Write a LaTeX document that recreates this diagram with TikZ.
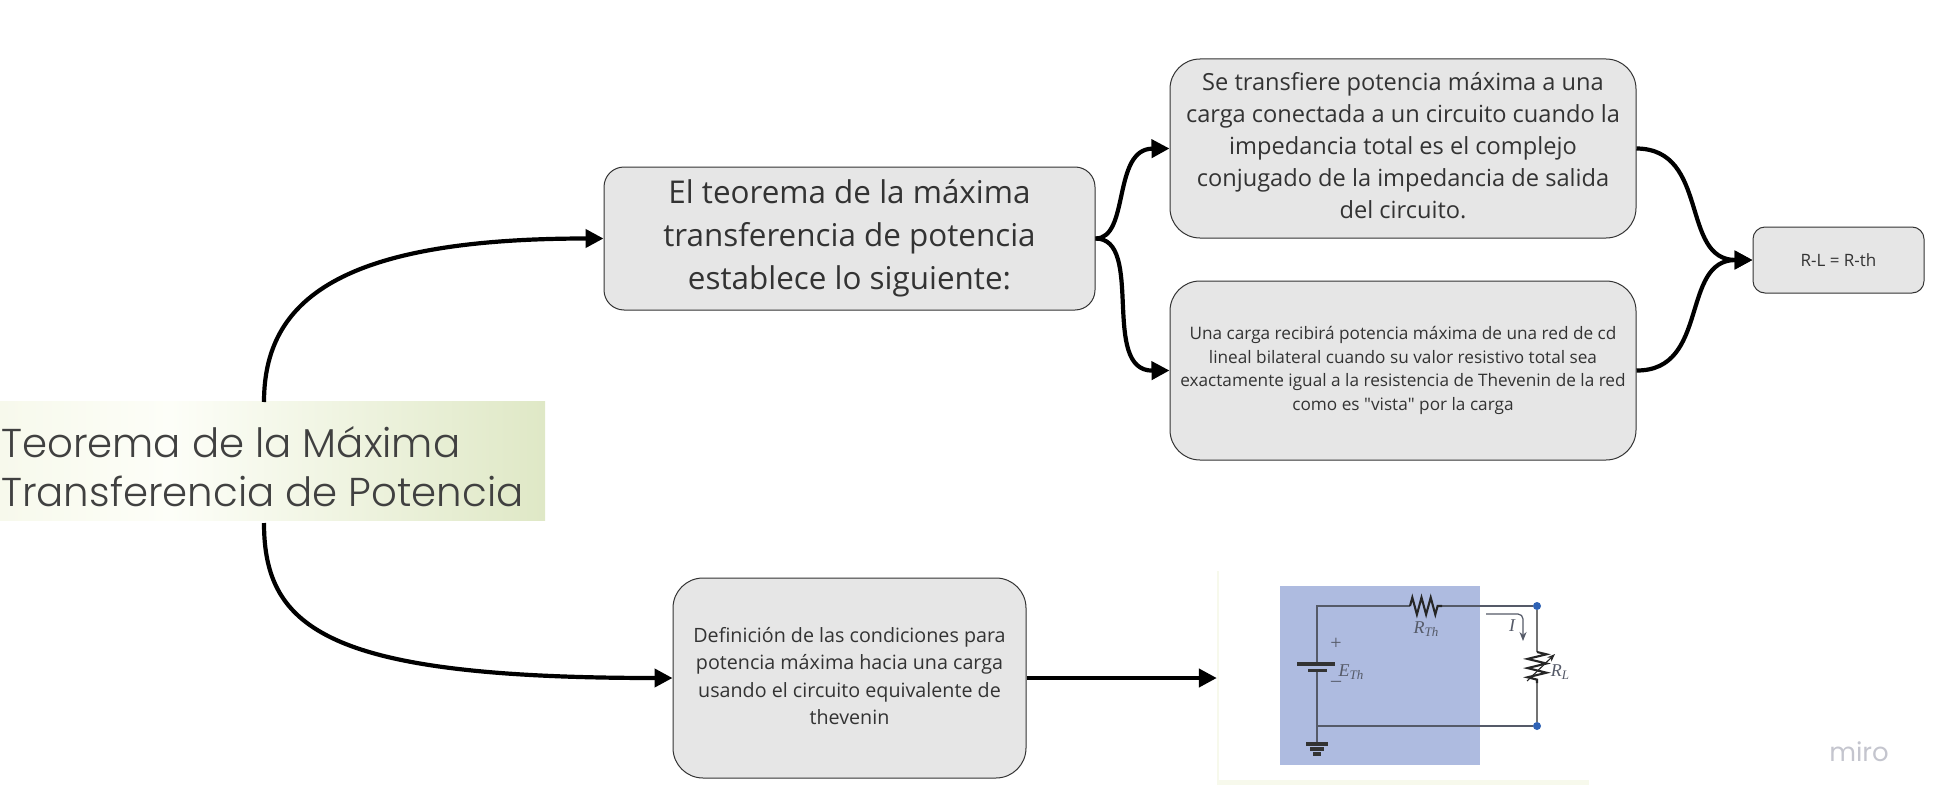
\documentclass[tikz,border=0pt]{standalone}
\usepackage{fontspec}
\setmainfont{Open Sans}
\newfontfamily\titlefont{Poppins Light}
\newfontfamily\plainfont{Open Sans}
\newfontfamily\mirofont{Poppins}
\newfontfamily\serifit{Liberation Serif}[ItalicFont=* Italic]
\usetikzlibrary{arrows.meta,calc,decorations.pathmorphing}
\definecolor{boxfill}{HTML}{E6E6E6}
\definecolor{ink}{HTML}{333333}
\definecolor{wire}{HTML}{555A68}
\definecolor{panel}{HTML}{AEBBE0}
\definecolor{dot}{HTML}{2F62B5}
\definecolor{leafl}{HTML}{F7F9EC}
\definecolor{leafm}{HTML}{FDFEF8}
\definecolor{leafr}{HTML}{DFE8C6}
\definecolor{mirogray}{HTML}{C4C5CE}
\tikzset{
  card/.style={draw=ink,line width=1pt,fill=boxfill,text=ink,align=center,inner sep=0pt},
  link/.style={draw=black,line width=4.2pt,-{Triangle[length=18pt,width=18pt]}},
  wirestyle/.style={draw=wire,line width=1.3pt},
  plate/.style={draw=black!80,line width=3.3pt},
  zig/.style={draw=black!85,line width=2.1pt,decorate,decoration={zigzag,segment length=9.2pt,amplitude=#1}},
  term/.style={circle,fill=dot,minimum size=8pt,inner sep=0pt},
  mathlabel/.style={text=wire,font=\serifit\itshape\fontsize{18}{18}\selectfont,inner sep=0pt},
}
\newcommand{\fs}[2]{\fontsize{#1}{#2}\selectfont}
\newcommand{\subs}[1]{\raisebox{-3pt}{\fontsize{13}{13}\selectfont #1}}
\begin{document}
\begin{tikzpicture}[x=1pt,y=-1pt]
\useasboundingbox (0,0) rectangle (1933,808);
% title image
\fill[left color=leafl,right color=leafm] (0,401) rectangle (170,520);
\fill[left color=leafm,right color=leafr] (170,401) rectangle (545,520);
\node[coordinate] (titletop) at (264,402) {};
\node[coordinate] (titlebot) at (264,523) {};
\node[text=black!75,anchor=west,align=left,inner sep=0pt,font=\titlefont\fs{40.3}{49}] (title) at (1,467) {Teorema de la Máxima\\Transferencia de Potencia};
% cards
\node[card,rounded corners=20pt,minimum width=491pt,minimum height=143pt,font=\fs{31.4}{43}] (main) at (849.5,238.5) {El teorema de la máxima\\transferencia de potencia\\establece lo siguiente:};
\node[card,rounded corners=30pt,minimum width=466pt,minimum height=179pt,font=\fs{23.6}{32}] (one) at (1403,148.5) {\raisebox{2.5pt}[\height][\depth]{\parbox{460pt}{\centering Se transfiere potencia máxima a una\\carga conectada a un circuito cuando la\\impedancia total es el complejo\\conjugado de la impedancia de salida\\del circuito.}}};
\node[card,rounded corners=30pt,minimum width=466pt,minimum height=179pt,font=\fs{17.2}{23.4}] (two) at (1403,370.5) {Una carga recibirá potencia máxima de una red de cd\\lineal bilateral cuando su valor resistivo total sea\\exactamente igual a la resistencia de Thevenin de la red\\como es {\plainfont"}vista{\plainfont"} por la carga};
\node[card,rounded corners=12pt,minimum width=171pt,minimum height=66pt,font=\fs{17}{20}] (res) at (1838.5,260) {R-L = R-th};
\node[card,rounded corners=30pt,minimum width=353pt,minimum height=200pt,font=\fs{19.7}{27.2}] (def) at (849.5,678) {\raisebox{2pt}[\height][\depth]{\parbox{340pt}{\centering Definición de las condiciones para\\potencia máxima hacia una carga\\usando el circuito equivalente de\\thevenin}}};
% circuit image
\node[fill=white,minimum width=372pt,minimum height=214pt,inner sep=0pt] (circ) at (1403,678) {};
\fill[leafl] (circ.south west) rectangle ++(372,-5);
\fill[leafl] (circ.south west) rectangle ($(circ.north west)+(2,0)$);
\fill[panel] (1280,586) rectangle (1480,765);
\node[coordinate] (tl) at (1317,606) {};
\node[coordinate] (bl) at (1317,726) {};
\node[term] (tr) at (1537,606) {};
\node[term] (br) at (1537,726) {};
\node[coordinate] (rthA) at (1410,606) {};
\node[coordinate] (rthB) at (1442,606) {};
\node[coordinate] (rlA) at (1537,652) {};
\node[coordinate] (rlB) at (1537,683) {};
\node[coordinate] (platea) at (1317,664) {};
\node[coordinate] (plateb) at (1317,670.5) {};
\node[coordinate] (gnd) at (1317,744) {};
\draw[wirestyle] (platea) -- (tl) -- (rthA);
\draw[wirestyle] (rthB) -- (tr);
\draw[wirestyle,line width=1.8pt,draw=black!55] (tr) -- (rlA);
\draw[wirestyle,line width=1.8pt,draw=black!55] (rlB) -- (br);
\draw[wirestyle] (br) -- (bl);
\draw[wirestyle] (plateb) -- (gnd);
\draw[zig=8.5pt] (rthA) -- (rthB);
\draw[zig=9.5pt] (rlA) -- (rlB);
\draw[-{Stealth[length=8pt,width=6pt]},draw=black!85,line width=1.1pt] (1527,681) -- (1555,654);
\draw[plate] ($(platea)+(-20,0)$) -- ($(platea)+(18,0)$);
\draw[plate] ($(plateb)+(-9,0)$) -- ($(plateb)+(10,0)$);
\draw[plate] ($(gnd)+(-11,0)$) -- ($(gnd)+(11,0)$);
\draw[plate] ($(gnd)+(-7,5)$) -- ($(gnd)+(7,5)$);
\draw[plate] ($(gnd)+(-4,10)$) -- ($(gnd)+(4,10)$);
\node[coordinate] (ia) at (1486,614) {};
\node[coordinate] (ib) at (1523,641) {};
\draw[draw=wire,line width=1.2pt,-{Stealth[length=9pt,width=7pt]},rounded corners=5pt] (ia) -- (1523,614) -- (ib);
\node[mathlabel] (rthlab) at (1426,629) {R\subs{Th}};
\node[mathlabel] (ethlab) at (1351,672) {E\subs{Th}};
\node[mathlabel,font=\serifit\fontsize{20}{20}\selectfont] (plus) at (1336,644) {+};
\node[mathlabel,font=\serifit\fontsize{20}{20}\selectfont] (minus) at (1336,684) {–};
\node[mathlabel] (ilab) at (1512,626) {I};
\node[mathlabel] (rllab) at (1560,672) {R\subs{L}};
% connectors
\draw[link] (titletop) .. controls (264,300) and (340,238.5) .. (main.west);
\draw[link] (titlebot) .. controls (264,630) and (330,678) .. (def.west);
\draw[link] (main.east) .. controls (1130,238.5) and (1112,149) .. (one.west);
\draw[link] (main.east) .. controls (1145,238.5) and (1100,371) .. (two.west);
\draw[link] (one.east) .. controls (1710,149) and (1680,260) .. (res.west);
\draw[link] (two.east) .. controls (1710,371) and (1680,260) .. (res.west);
\draw[link] (def.east) -- (circ.west);
\node[text=mirogray,inner sep=0pt,font=\mirofont\fontsize{26}{26}\selectfont] (miro) at (1859,752) {miro};
\end{tikzpicture}
\end{document}
